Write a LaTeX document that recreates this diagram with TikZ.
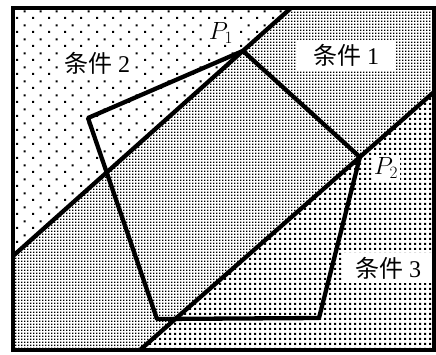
\documentclass[tikz,border=0pt]{standalone}
\usepackage{fontspec}
\setmainfont{Liberation Serif}
\newfontfamily\cjk{Noto Sans CJK SC}
\usepackage{tikz}
\usetikzlibrary{calc,patterns.meta}

\tikzdeclarepattern{
  name=sparsedots,
  type=uncolored,
  bounding box={(0pt,0pt) and (16pt,14pt)},
  tile size={(16pt,14pt)},
  code={
    \fill (0pt,0pt) rectangle (2.2pt,2.2pt);
    \fill (8pt,7pt) rectangle (10.2pt,9.2pt);
  }
}
\tikzdeclarepattern{
  name=densedots,
  type=uncolored,
  bounding box={(0pt,0pt) and (3pt,3pt)},
  tile size={(3pt,3pt)},
  code={\fill (0pt,0pt) rectangle (1.9pt,1.9pt);}
}
\tikzdeclarepattern{
  name=griddots,
  type=uncolored,
  bounding box={(0pt,0pt) and (4.5pt,4.5pt)},
  tile size={(4.5pt,4.5pt)},
  code={\fill (0pt,0pt) rectangle (2.4pt,2.4pt);}
}

\begin{document}
\begin{tikzpicture}[x=1pt,y=1pt,
  edge/.style={line width=4.3pt,line join=round},
  tag/.style={fill=white,inner sep=3pt,font=\fontsize{24}{27}\selectfont}]
  \useasboundingbox (0,0) rectangle (436,354);
  % frame
  \coordinate (SW) at (13,4);
  \coordinate (NE) at (434,346);
  % the two boundary lines
  \coordinate (A1) at (13,98);
  \coordinate (B1) at (291,346);
  \coordinate (A2) at (140,4);
  \coordinate (B2) at (434,262);
  % pentagon
  \coordinate (P1) at ($(A1)!0.827!(B1)$);
  \coordinate (P2) at ($(A2)!0.748!(B2)$);
  \coordinate (Q3) at (319,36);
  \coordinate (Q4) at (157,35);
  \coordinate (Q5) at (88,236);

  \fill[pattern=sparsedots] (SW |- NE) -- (B1) -- (A1) -- cycle;
  \fill[pattern=densedots] (A1) -- (B1) -- (NE) -- (B2) -- (A2) -- (SW) -- cycle;
  \fill[pattern=griddots] (A2) -- (SW -| NE) -- (B2) -- cycle;

  \node[tag,inner xsep=5pt] (c2) at (97,291) {{\cjk 条件} 2};
  \node[tag,inner xsep=16pt,inner ysep=4pt] (c1) at (346,299) {{\cjk 条件} 1};
  \node[tag,inner xsep=12pt,inner ysep=4pt] (c3) at (388,86) {{\cjk 条件} 3};
  \node[tag,inner sep=1pt] (p1) at (221,321) {$P_1$};
  \node[tag,inner sep=2pt] (p2) at (386,186) {$P_2$};

  \begin{scope}
    \clip (SW) rectangle (NE);
    \draw[edge] (A1) -- (B1);
    \draw[edge] (A2) -- (B2);
  \end{scope}
  \draw[edge] (P1) -- (P2) -- (Q3) -- (Q4) -- (Q5) -- cycle;
  \draw[line width=3.4pt] (SW) rectangle (NE);
\end{tikzpicture}
\end{document}
